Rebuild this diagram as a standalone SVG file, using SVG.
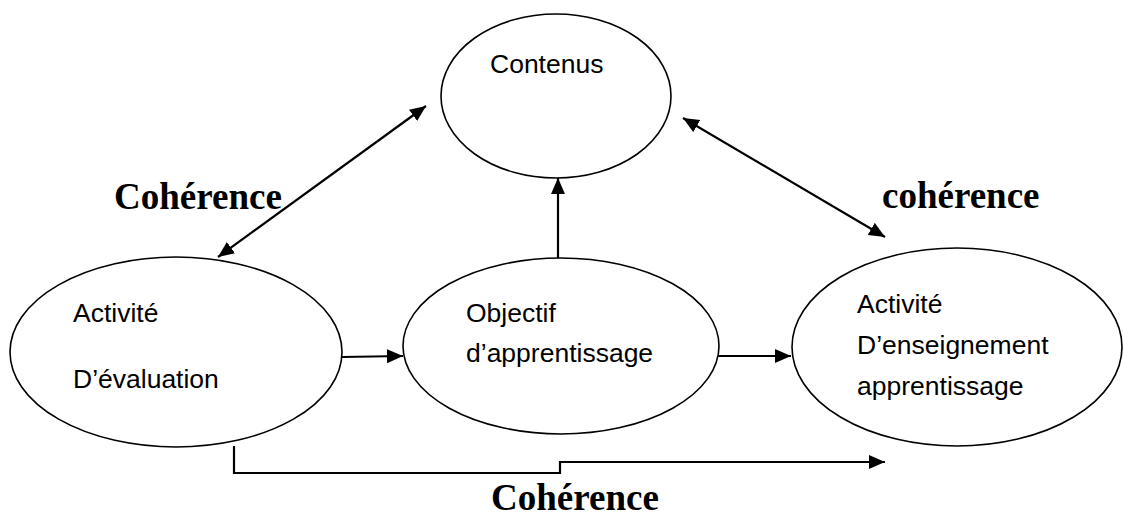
<svg xmlns="http://www.w3.org/2000/svg" width="1123" height="517" viewBox="0 0 1123 517">
<style>
.node ellipse{fill:#fff;stroke:#000;stroke-width:1.6}
.lbl{font-family:"Liberation Sans",Arial,sans-serif;font-size:26.5px;fill:#000}
.coh{font-family:"Liberation Serif","Times New Roman",serif;font-size:37px;font-weight:bold;fill:#000}
.conn{fill:none;stroke:#000;stroke-width:2.2}
</style>
<defs>
<marker id="ah" markerUnits="userSpaceOnUse" markerWidth="17" markerHeight="15" refX="16" refY="7" orient="auto-start-reverse" viewBox="0 0 17 15">
<path d="M0,0 L16,7 L0,14 z" fill="#000"/>
</marker>
</defs>
<rect width="1123" height="517" fill="#fff"/>
<g id="node-contenus" class="node">
<ellipse cx="556" cy="96" rx="115" ry="82"/>
<text class="lbl" x="490" y="73">Contenus</text>
</g>
<g id="node-evaluation" class="node">
<ellipse cx="176" cy="352" rx="166" ry="95"/>
<text class="lbl" x="73" y="322">Activité</text>
<text class="lbl" x="73" y="388">D’évaluation</text>
</g>
<g id="node-objectif" class="node">
<ellipse cx="561" cy="346" rx="158" ry="88"/>
<text class="lbl" x="466" y="322">Objectif</text>
<text class="lbl" x="466" y="362">d’apprentissage</text>
</g>
<g id="node-enseignement" class="node">
<ellipse cx="957" cy="347" rx="165" ry="99"/>
<text class="lbl" x="857" y="313">Activité</text>
<text class="lbl" x="857" y="354">D’enseignement</text>
<text class="lbl" x="857" y="395">apprentissage</text>
</g>
<g id="connectors">
<line class="conn" x1="218" y1="257" x2="426" y2="106" marker-start="url(#ah)" marker-end="url(#ah)"/>
<line class="conn" x1="683" y1="118" x2="885" y2="237" marker-start="url(#ah)" marker-end="url(#ah)"/>
<line class="conn" x1="558" y1="258" x2="558" y2="178" marker-end="url(#ah)"/>
<line class="conn" x1="342" y1="357" x2="403" y2="356" marker-end="url(#ah)"/>
<line class="conn" x1="718" y1="356" x2="791" y2="356" marker-end="url(#ah)"/>
<polyline class="conn" points="234,446 234,473 560,473 560,462 885,462" marker-end="url(#ah)"/>
</g>
<g id="labels">
<text class="coh" x="114" y="209">Cohérence</text>
<text class="coh" x="882" y="208">cohérence</text>
<text class="coh" x="491" y="510">Cohérence</text>
</g>
</svg>
